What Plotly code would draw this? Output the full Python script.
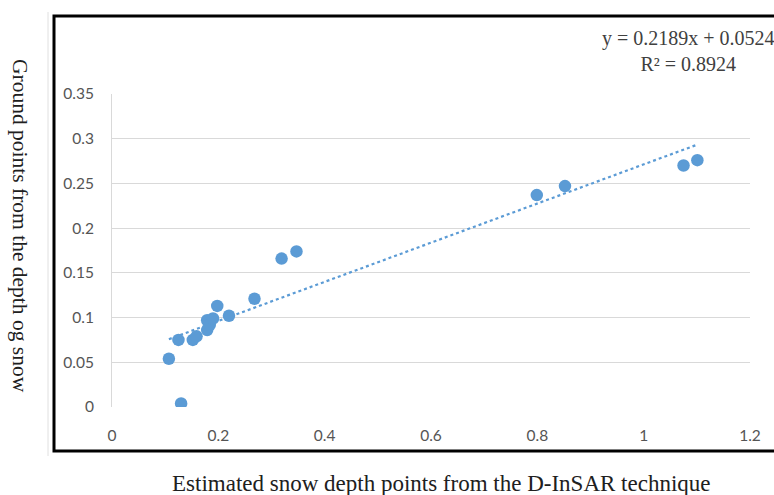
import numpy as np
import plotly.graph_objects as go

# Data
x_est = [0.107, 0.125, 0.130, 0.152, 0.159, 0.179, 0.179, 0.184, 0.190, 0.198,
         0.220, 0.268, 0.319, 0.347, 0.799, 0.852, 1.075, 1.101]
y_ground = [0.054, 0.075, 0.004, 0.075, 0.079, 0.086, 0.097, 0.092, 0.099, 0.113,
            0.102, 0.121, 0.166, 0.174, 0.237, 0.247, 0.270, 0.276]
slope = 0.2189
intercept = 0.0524
r2 = 0.8924
x_ticks = [0, 0.2, 0.4, 0.6, 0.8, 1, 1.2]
x_ticklabels = ["0", "0.2", "0.4", "0.6", "0.8", "1", "1.2"]
y_ticks = [0, 0.05, 0.1, 0.15, 0.2, 0.25, 0.3, 0.35]
y_ticklabels = ["0", "0.05", "0.1", "0.15", "0.2", "0.25", "0.3", "0.35"]

blue = "#5B9BD5"
W, H = 774, 495
L, R, T, B = 112, 24, 94, 88
pw, ph = W - L - R, H - T - B

def px_x(p):
    return (p - L) / pw

def px_y(p):
    return (H - B - p) / ph

trend_x = [min(x_est), max(x_est)]
trend_y = [slope * v + intercept for v in trend_x]

fig = go.Figure()
fig.add_trace(go.Scatter(x=trend_x, y=trend_y, mode="lines",
                         line=dict(color=blue, width=2.2, dash="dot"),
                         hoverinfo="skip", showlegend=False))
fig.add_trace(go.Scatter(x=x_est, y=y_ground, mode="markers",
                         marker=dict(color=blue, size=12.5),
                         showlegend=False))

tickfont = dict(family="Lato, Liberation Sans, sans-serif", size=15.5, color="#555555")
fig.update_xaxes(range=[0, 1.2], tickvals=x_ticks, ticktext=x_ticklabels,
                 showgrid=False, zeroline=False, showline=False,
                 ticks="outside", ticklen=14, tickcolor="rgba(0,0,0,0)",
                 tickfont=tickfont)
fig.update_yaxes(range=[0, 0.35], tickvals=y_ticks, ticktext=y_ticklabels,
                 showgrid=True, gridcolor="#D9D9D9", gridwidth=1,
                 zeroline=False, showline=True, linecolor="#D9D9D9", linewidth=1,
                 ticks="outside", ticklen=14, tickcolor="rgba(0,0,0,0)",
                 tickfont=tickfont)

serif = "Liberation Serif, Times New Roman, serif"
fig.add_annotation(text=f"y = {slope}x + {intercept}<br>R² = {r2}",
                   xref="paper", yref="paper", x=px_x(688), y=px_y(51),
                   xanchor="center", yanchor="middle", showarrow=False,
                   align="center", font=dict(family=serif, size=20, color="#404040"))
fig.add_annotation(text="Estimated snow depth points from the D-InSAR technique",
                   xref="paper", yref="paper", x=px_x(441), y=px_y(483),
                   xanchor="center", yanchor="middle", showarrow=False,
                   font=dict(family=serif, size=23, color="#202020"))
fig.add_annotation(text="Ground points from the depth og snow",
                   xref="paper", yref="paper", x=px_x(20), y=px_y(226),
                   xanchor="center", yanchor="middle", showarrow=False,
                   textangle=90,
                   font=dict(family=serif, size=21.5, color="#202020"))

# frame around the chart
fig.add_shape(type="line", xref="paper", yref="paper",
              x0=px_x(48), x1=px_x(48), y0=px_y(12), y1=px_y(456),
              line=dict(color="#E0E0E0", width=1))
fig.add_shape(type="rect", xref="paper", yref="paper",
              x0=px_x(54), x1=px_x(790), y0=px_y(451), y1=px_y(16),
              line=dict(color="black", width=3), fillcolor="rgba(0,0,0,0)")

fig.update_layout(width=W, height=H, margin=dict(l=L, r=R, t=T, b=B),
                  paper_bgcolor="white", plot_bgcolor="white")
fig.write_html("out.html", config={"displayModeBar": False},
               post_script="document.body.style.margin='0';document.body.style.padding='0';")
